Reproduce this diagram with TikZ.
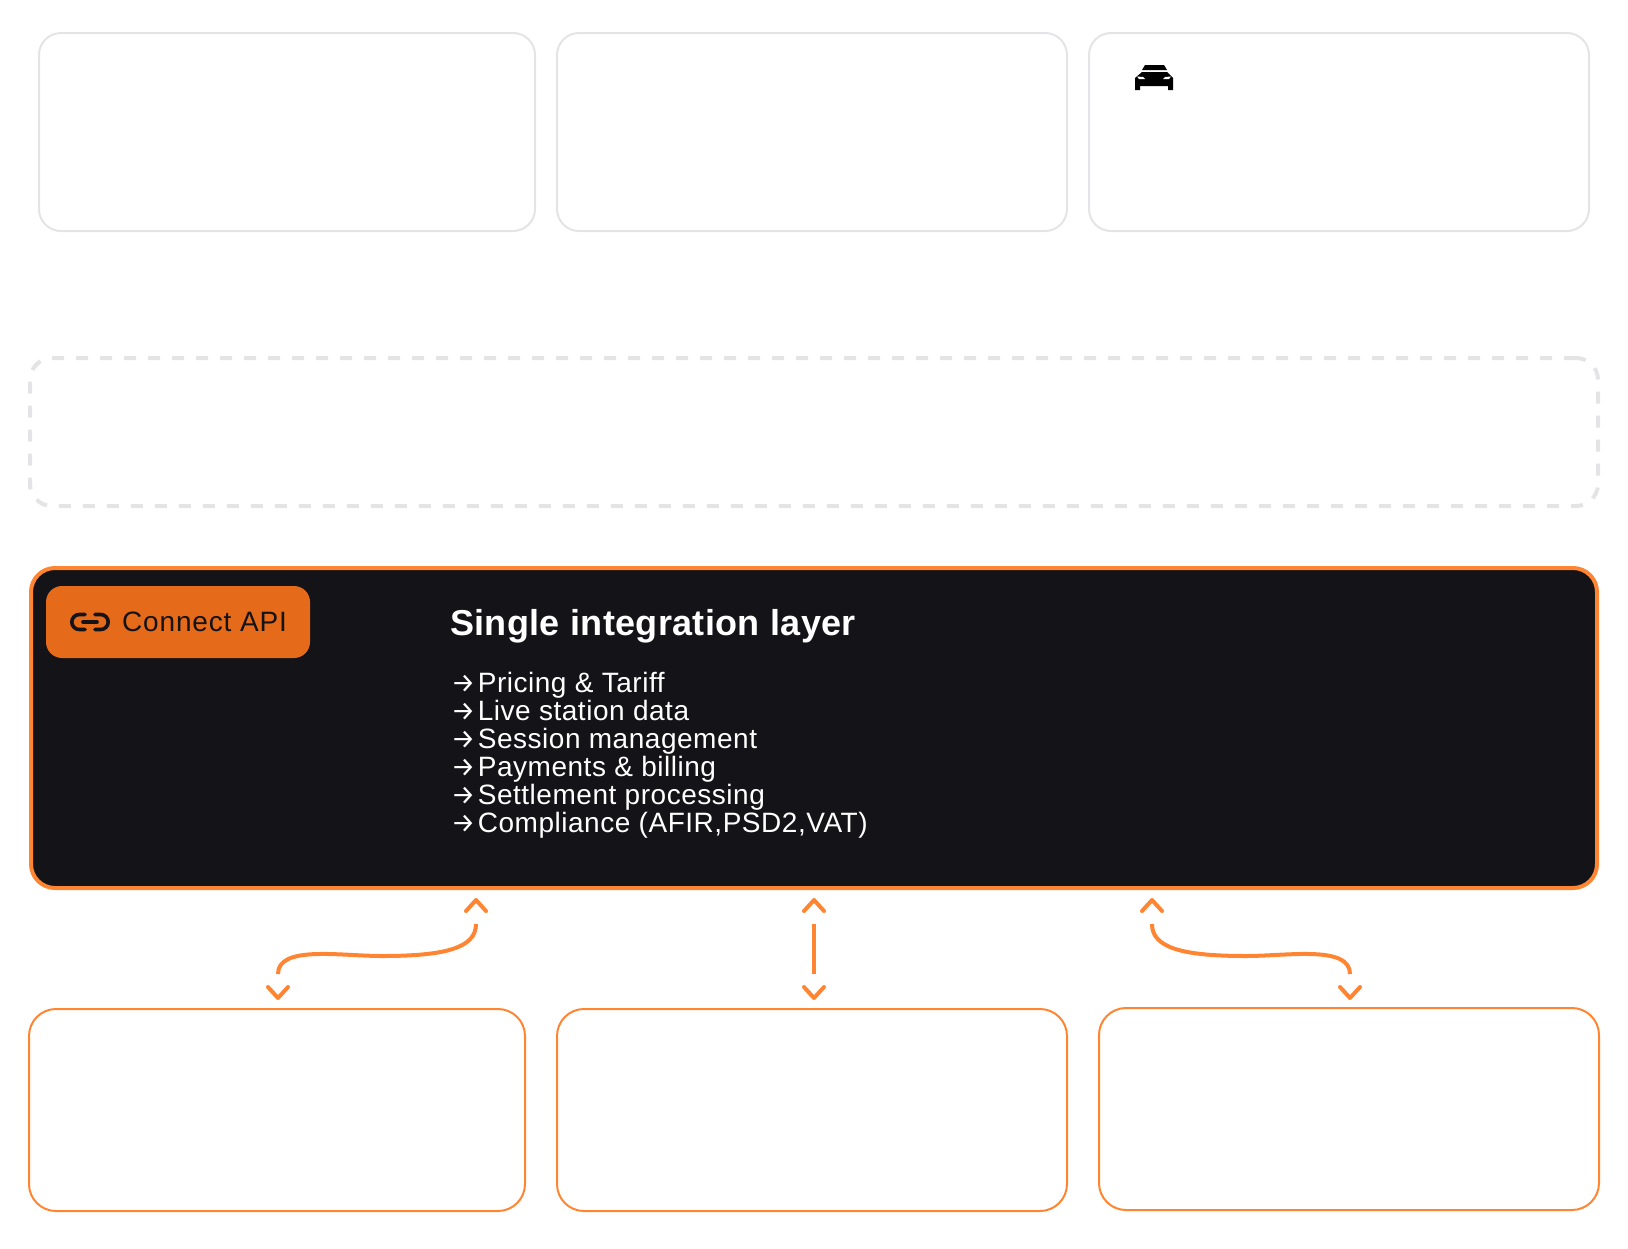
\documentclass[tikz,border=0pt]{standalone}
\usepackage{fontspec}
\setmainfont{Liberation Sans}
\newfontfamily\arrowfont{Fira Sans}
\newfontfamily\listfont[LetterSpace=1.9]{Liberation Sans}
\newfontfamily\badgefont[LetterSpace=3]{Liberation Sans}
\newfontfamily\titlefont[LetterSpace=1]{Liberation Sans}
\usetikzlibrary{positioning}
\definecolor{paleline}{HTML}{E4E4E7}
\definecolor{apiorange}{HTML}{FF8533}
\definecolor{badgeorange}{HTML}{E56A19}
\definecolor{apidark}{HTML}{131318}
\tikzset
{
    clientbox/.style = {rectangle, rounded corners=22pt, draw=paleline, line width=2pt, anchor=north west, outer sep=0pt, minimum height=198pt},
    partnerbox/.style = {rectangle, rounded corners=27pt, draw=apiorange, line width=2pt, anchor=north west, outer sep=0pt, minimum height=202pt},
    dashedbox/.style = {rectangle, rounded corners=22pt, draw=paleline, line width=4pt, dash pattern=on 12pt off 12pt, anchor=north west, outer sep=0pt},
    apibox/.style = {rectangle, rounded corners=24pt, draw=apiorange, fill=apidark, line width=4pt, anchor=north west, outer sep=0pt},
    badge/.style = {rectangle, rounded corners=16pt, fill=badgeorange, anchor=north west, outer sep=0pt},
    flow/.style = {apiorange, line width=4pt},
    chevron/.style = {apiorange, line width=4pt, line cap=round, line join=round},
    linkline/.style = {apidark, line width=3.6pt, line cap=round},
    badgetext/.style = {anchor=base west, inner sep=0pt, text=apidark},
    whitetext/.style = {anchor=north west, inner sep=0pt, text=white, align=left}
}
\newcommand\listarrow{\makebox[25.6pt][l]{\hspace{-1pt}\arrowfont\fontsize{27}{28}\selectfont →}}
\begin{document}
\begin{tikzpicture}[x=1pt, y=-1pt]
	\useasboundingbox (0, 0) rectangle (1628, 1248);

	\newcommand\CHEVDX{10}
	\newcommand\CHEVDY{11}

	\node (drivers)  [clientbox, minimum width=496pt] at (39, 33)     {};
	\node (fleets)   [clientbox, minimum width=510pt] at (557, 33)    {};
	\node (vehicles) [clientbox, minimum width=500pt] at (1089, 33)   {};
	\node (middle)   [dashedbox, minimum width=1568pt, minimum height=148pt] at (30, 358) {};

	\node (api)   [apibox, minimum width=1566pt, minimum height=320pt] at (31, 568)  {};
	\node (conn)  [badge, minimum width=264pt, minimum height=72pt]    at (46, 586)  {};
	\node (connt) [badgetext, font=\badgefont\fontsize{28}{28}\selectfont] at (122, 631) {Connect API};
	\node (title) [anchor=base west, inner sep=0pt, text=white, font=\titlefont\fontsize{36}{40}\selectfont\bfseries] at (450, 635) {Single integration layer};
	\node (list)  [whitetext, font=\listfont\fontsize{28}{28}\selectfont] at (452, 672)
		{\listarrow Pricing \& Tariff\\ \listarrow Live station data\\ \listarrow Session management\\
		 \listarrow Payments \& billing\\ \listarrow Settlement processing\\ \listarrow Compliance (AFIR,PSD2,VAT)};

	\node (cpo)   [partnerbox, minimum width=496pt] at (29, 1009)   {};
	\node (roam)  [partnerbox, minimum width=510pt] at (557, 1009)  {};
	\node (grid)  [partnerbox, minimum width=500pt] at (1099, 1008) {};

	% link icon in the badge
	\draw[linkline, rounded corners=7.5pt] (85, 614.5) -- (71.8, 614.5) -- (71.8, 629.5) -- (85, 629.5);
	\draw[linkline, rounded corners=7.5pt] (95, 614.5) -- (108.2, 614.5) -- (108.2, 629.5) -- (95, 629.5);
	\draw[linkline] (83, 622) -- (97, 622);

	% car icon
	\fill[black] (1145, 65) -- (1164, 65) -- (1167, 70) -- (1142, 70) -- cycle;
	\fill[black] (1142, 72) -- (1167, 72) -- (1173, 78) -- (1173, 90) -- (1168, 90) -- (1168, 86) -- (1140, 86) -- (1140, 90) -- (1135, 90) -- (1135, 78) -- cycle;
	\fill[white] (1137, 76.5) -- (1143, 77) -- (1145, 79) -- (1139, 79) -- cycle;
	\fill[white] (1171, 76.5) -- (1165, 77) -- (1163, 79) -- (1169, 79) -- cycle;

	\coordinate (lefttop)     at (476, 924);
	\coordinate (leftbot)     at (278, 974);
	\coordinate (midtop)      at (814, 924);
	\coordinate (midbot)      at (814, 974);
	\coordinate (righttop)    at (1152, 924);
	\coordinate (rightbot)    at (1350, 974);

	\coordinate (leftup)      at (476, 900);
	\coordinate (leftdown)    at (278, 998);
	\coordinate (midup)       at (814, 900);
	\coordinate (middown)     at (814, 998);
	\coordinate (rightup)     at (1152, 900);
	\coordinate (rightdown)   at (1350, 998);

	\draw[flow] (lefttop) .. controls (476, 948) and (445, 956) .. (382, 956) .. controls (340, 956) and (278, 945) .. (leftbot);
	\draw[flow] (midtop) -- (midbot);
	\draw[flow] (righttop) .. controls (1152, 948) and (1183, 956) .. (1246, 956) .. controls (1288, 956) and (1350, 945) .. (rightbot);

	\draw[chevron] ([shift=({-\CHEVDX, \CHEVDY})]leftup)    -- (leftup)    -- ([shift=({\CHEVDX, \CHEVDY})]leftup);
	\draw[chevron] ([shift=({-\CHEVDX, \CHEVDY})]midup)     -- (midup)     -- ([shift=({\CHEVDX, \CHEVDY})]midup);
	\draw[chevron] ([shift=({-\CHEVDX, \CHEVDY})]rightup)   -- (rightup)   -- ([shift=({\CHEVDX, \CHEVDY})]rightup);
	\draw[chevron] ([shift=({-\CHEVDX, -\CHEVDY})]leftdown)  -- (leftdown)  -- ([shift=({\CHEVDX, -\CHEVDY})]leftdown);
	\draw[chevron] ([shift=({-\CHEVDX, -\CHEVDY})]middown)   -- (middown)   -- ([shift=({\CHEVDX, -\CHEVDY})]middown);
	\draw[chevron] ([shift=({-\CHEVDX, -\CHEVDY})]rightdown) -- (rightdown) -- ([shift=({\CHEVDX, -\CHEVDY})]rightdown);
\end{tikzpicture}
\end{document}
